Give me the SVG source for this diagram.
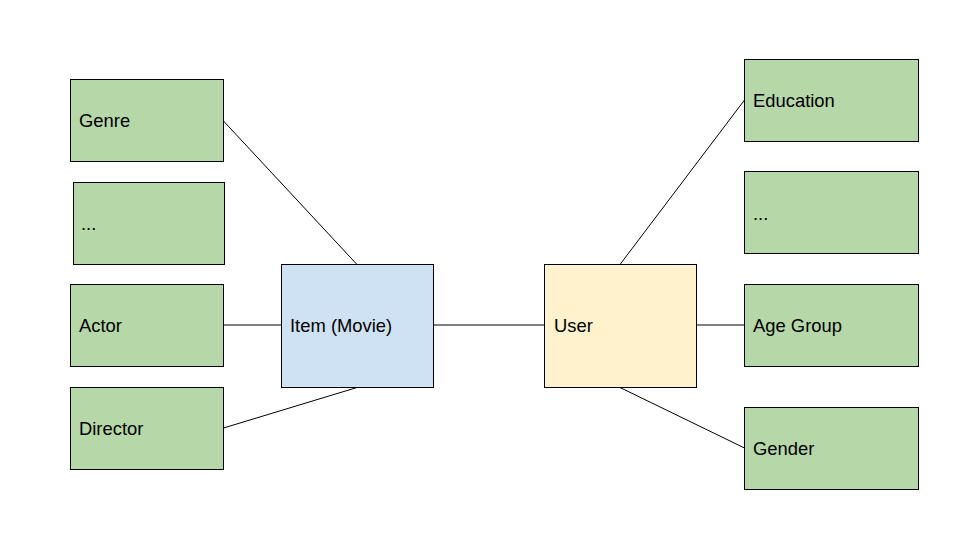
<svg xmlns="http://www.w3.org/2000/svg" width="960" height="556" viewBox="0 0 960 556">
<style>
.n{stroke:#000;stroke-width:1}
.g{fill:#b6d7a8}
.b{fill:#cfe2f3}
.y{fill:#fff2cc}
text{font-family:"Liberation Sans",Arial,sans-serif;font-size:18.4px;fill:#000;dominant-baseline:central}
.c line{stroke:#000;stroke-width:1}
</style>
<rect width="960" height="556" fill="#fff"/>
<g class="c" id="connectors">
<line x1="223.5" y1="121" x2="357" y2="264.5"/>
<line x1="223.5" y1="325" x2="281.5" y2="325"/>
<line x1="223.5" y1="428" x2="357" y2="387.5"/>
<line x1="433.5" y1="325" x2="544.5" y2="325"/>
<line x1="620" y1="264.5" x2="744.5" y2="100"/>
<line x1="696.5" y1="325" x2="744.5" y2="325"/>
<line x1="620" y1="387.5" x2="744.5" y2="448"/>
</g>
<g id="genre"><rect class="n g" x="70.5" y="79.5" width="153" height="82"/><text x="79" y="120.5">Genre</text></g>
<g id="dots-left"><rect class="n g" x="73.5" y="182.5" width="151" height="82"/><text x="81" y="223.5">...</text></g>
<g id="actor"><rect class="n g" x="70.5" y="284.5" width="153" height="82"/><text x="79" y="325.5">Actor</text></g>
<g id="director"><rect class="n g" x="70.5" y="387.5" width="153" height="82"/><text x="79" y="428.5">Director</text></g>
<g id="item"><rect class="n b" x="281.5" y="264.5" width="152" height="123"/><text x="290" y="325.5">Item (Movie)</text></g>
<g id="user"><rect class="n y" x="544.5" y="264.5" width="152" height="123"/><text x="554" y="325.5">User</text></g>
<g id="education"><rect class="n g" x="744.5" y="59.5" width="174" height="82"/><text x="753" y="100.5">Education</text></g>
<g id="dots-right"><rect class="n g" x="744.5" y="171.5" width="174" height="82"/><text x="753" y="213.5">...</text></g>
<g id="age-group"><rect class="n g" x="744.5" y="284.5" width="174" height="82"/><text x="753" y="325.5">Age Group</text></g>
<g id="gender"><rect class="n g" x="744.5" y="407.5" width="174" height="82"/><text x="753" y="448.5">Gender</text></g>
</svg>
